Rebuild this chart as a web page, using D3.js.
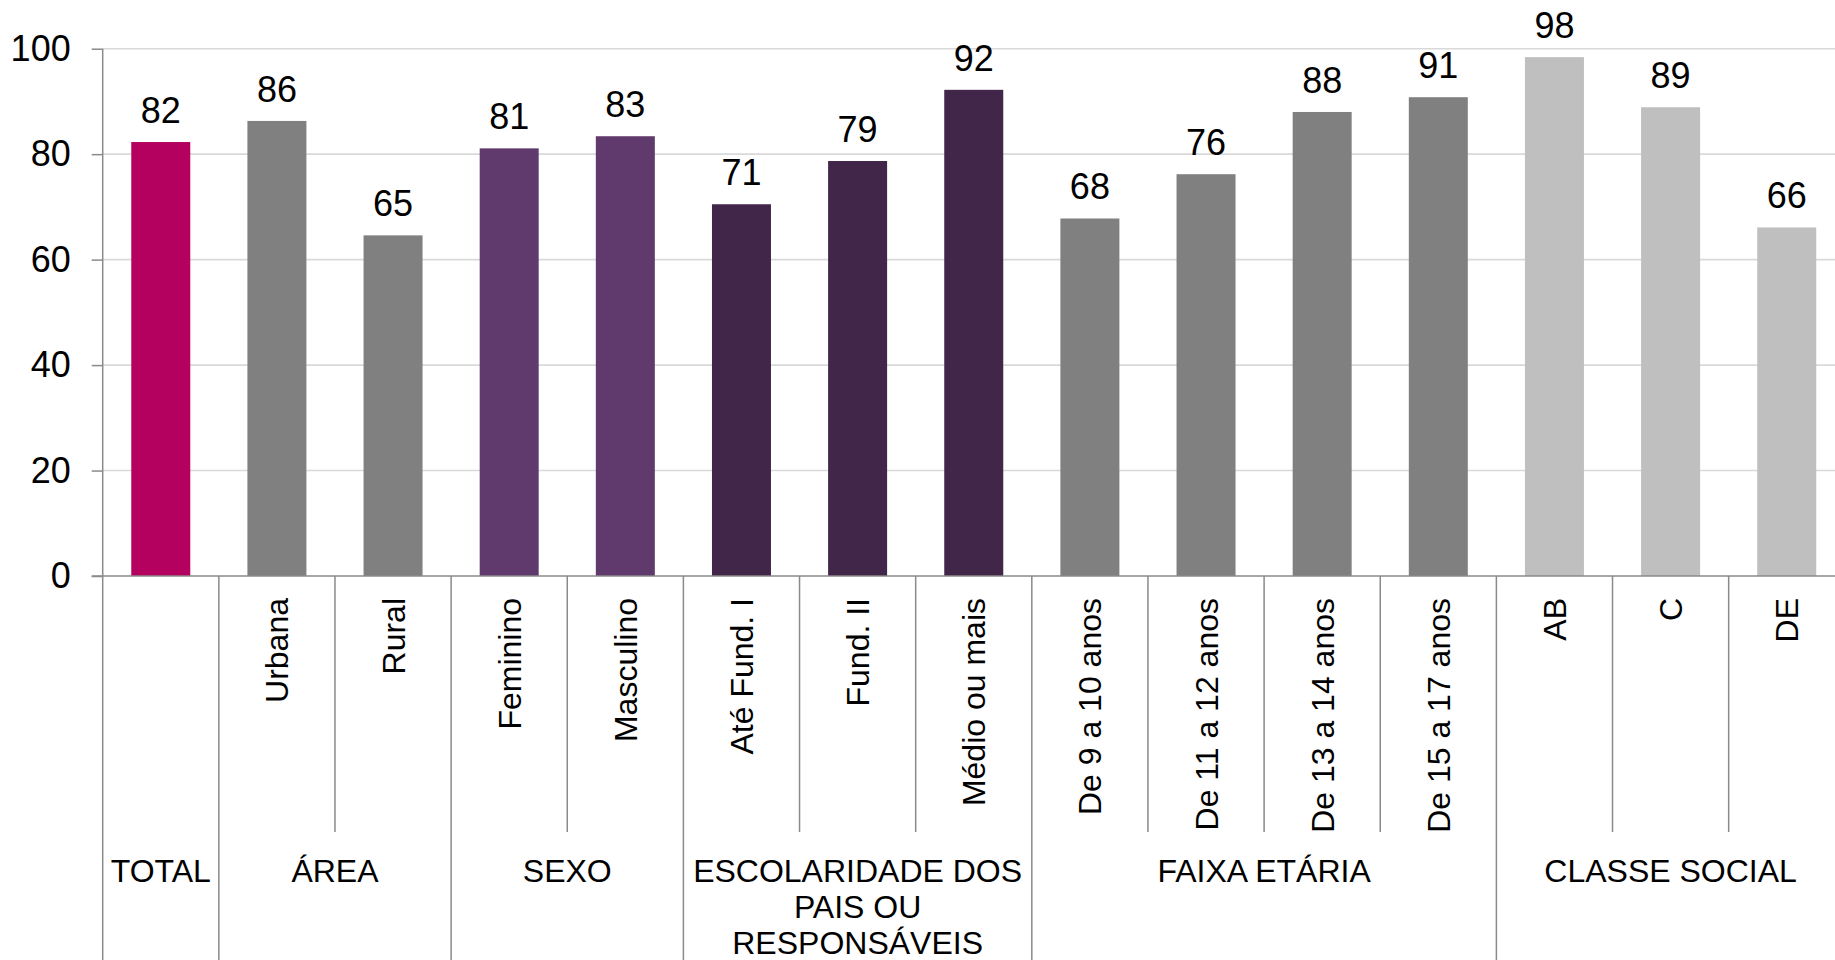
<!DOCTYPE html>
<html lang="pt">
<head>
<meta charset="utf-8">
<title>Gráfico por perfil</title>
<style>
  body { margin: 0; background: #fff; }
  svg text { font-family: "Liberation Sans", Arial, sans-serif; fill: #000; }
</style>
</head>
<body>
<script src="https://cdnjs.cloudflare.com/ajax/libs/d3/7.8.5/d3.min.js"></script>
<script>
// data
const categories = ["TOTAL", "Urbana", "Rural", "Feminino", "Masculino",
  "Até Fund. I", "Fund. II", "Médio ou mais",
  "De 9 a 10 anos", "De 11 a 12 anos", "De 13 a 14 anos", "De 15 a 17 anos",
  "AB", "C", "DE"];
const values = [82.3, 86.3, 64.6, 81.1, 83.4, 70.5, 78.7, 92.2, 67.8, 76.2, 88.0, 90.8, 98.4, 88.9, 66.1];
const groupLabels = [["TOTAL"], ["ÁREA"], ["SEXO"], ["ESCOLARIDADE DOS", "PAIS OU", "RESPONSÁVEIS"], ["FAIXA ETÁRIA"], ["CLASSE SOCIAL"]];
const groupSizes = [1, 2, 2, 3, 4, 3];
const groupColors = ["#b4005f", "#808080", "#603a6c", "#41264a", "#808080", "#bfbfbf"];
const yTicks = [0, 20, 40, 60, 80, 100];

const W = 1835, H = 960;
const left = 102.7, step = 116.14;
const y0 = 576, y100 = 48.7;
const axisColor = "#8a8a8a", gridColor = "#d9d9d9";

const svg = d3.select("body").append("svg")
  .attr("width", W).attr("height", H);

// which group each category is in
const groupOf = [];
groupSizes.forEach((n, g) => { for (let i = 0; i < n; i++) groupOf.push(g); });
const groupStart = groupSizes.map((n, g) => d3.sum(groupSizes.slice(0, g)));

const cell = d3.scaleBand().domain(categories).range([left, left + step * categories.length]).padding(0);
const x = d3.scaleBand().domain(categories).range([left, left + step * categories.length])
  .paddingInner(0.492).paddingOuter(0.246);
const y = d3.scaleLinear().domain([0, 100]).range([y0, y100]);

// gridlines
svg.append("g")
  .selectAll("line")
  .data(yTicks.filter(t => t > 0))
  .join("line")
  .attr("x1", left).attr("x2", W)
  .attr("y1", d => y(d)).attr("y2", d => y(d))
  .attr("stroke", gridColor).attr("stroke-width", 1.6);

// y axis
const yAxis = svg.append("g")
  .attr("transform", "translate(" + left + ",0)")
  .call(d3.axisLeft(y).tickValues(yTicks).tickSize(11).tickPadding(21));
yAxis.select(".domain").remove();
yAxis.selectAll(".tick line").attr("stroke", axisColor).attr("stroke-width", 1.5);
yAxis.selectAll(".tick text")
  .style("font-family", "'Liberation Sans', Arial, sans-serif")
  .style("font-size", "36px").attr("fill", "#000");

// bars
svg.append("g")
  .selectAll("rect")
  .data(values)
  .join("rect")
  .attr("x", (d, i) => x(categories[i]))
  .attr("y", d => y(d))
  .attr("width", x.bandwidth())
  .attr("height", d => y(0) - y(d))
  .attr("fill", (d, i) => groupColors[groupOf[i]]);

// value labels
svg.append("g")
  .selectAll("text")
  .data(values)
  .join("text")
  .attr("x", (d, i) => x(categories[i]) + x.bandwidth() / 2)
  .attr("y", d => y(d) - 19)
  .attr("text-anchor", "middle")
  .style("font-size", "36px")
  .text(d => Math.round(d));

// left axis line and x axis line
svg.append("line")
  .attr("x1", left).attr("x2", left).attr("y1", y100).attr("y2", H)
  .attr("stroke", axisColor).attr("stroke-width", 1.5);
svg.append("line")
  .attr("x1", left - 11).attr("x2", W).attr("y1", y0).attr("y2", y0)
  .attr("stroke", axisColor).attr("stroke-width", 1.5);

// separators under the axis: short ones inside groups, long ones between groups
const bounds = d3.range(1, categories.length + 1);
svg.append("g")
  .selectAll("line")
  .data(bounds)
  .join("line")
  .attr("x1", i => cell(categories[i - 1]) + cell.bandwidth())
  .attr("x2", i => cell(categories[i - 1]) + cell.bandwidth())
  .attr("y1", y0)
  .attr("y2", i => groupStart.includes(i) || i === categories.length ? H : 832)
  .attr("stroke", axisColor).attr("stroke-width", 1.5);

// rotated category labels (TOTAL has none of its own)
svg.append("g")
  .selectAll("text")
  .data(categories.slice(1))
  .join("text")
  .attr("transform", d => "translate(" + (cell(d) + cell.bandwidth() / 2) + ",598) rotate(-90)")
  .attr("text-anchor", "end")
  .attr("dy", "0.36em")
  .style("font-size", "32px")
  .text(d => d);

// group labels
const gl = svg.append("g")
  .selectAll("text")
  .data(groupLabels)
  .join("text")
  .attr("text-anchor", "middle")
  .style("font-size", "32px")
  .attr("transform", (d, g) => {
    const a = cell(categories[groupStart[g]]);
    const b = a + cell.step() * groupSizes[g];
    return "translate(" + ((a + b) / 2) + ",881.5)";
  });
gl.selectAll("tspan")
  .data(d => d)
  .join("tspan")
  .attr("x", 0)
  .attr("y", (d, i) => i * 36)
  .text(d => d);
</script>
</body>
</html>
